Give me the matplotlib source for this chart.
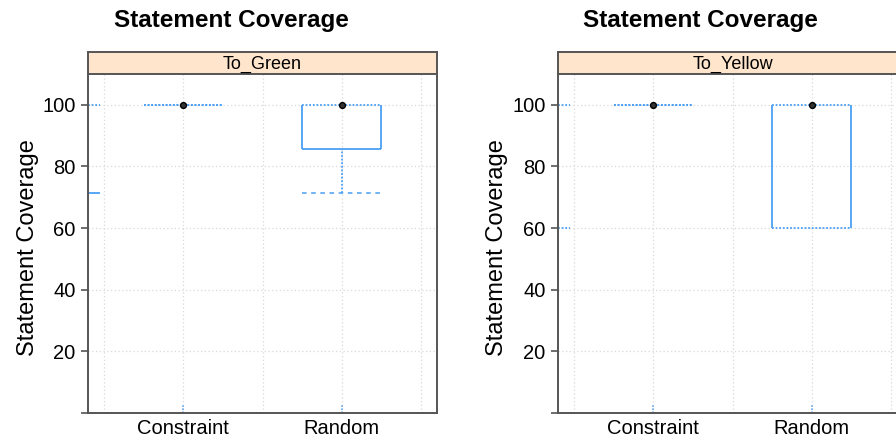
import matplotlib
matplotlib.use("Agg")
import matplotlib.pyplot as plt

plt.rcParams['font.family'] = ['Liberation Sans', 'DejaVu Sans']

categories = ["Constraint", "Random"]
panels = ["To_Green", "To_Yellow"]
title = "Statement Coverage"
ylabel = "Statement Coverage"

# five-number summaries per panel: [Constraint, Random]
whislo = {"To_Green": [100, 71.4], "To_Yellow": [100, 60]}
q1 = {"To_Green": [100, 85.7], "To_Yellow": [100, 60]}
med = {"To_Green": [100, 100], "To_Yellow": [100, 100]}
q3 = {"To_Green": [100, 100], "To_Yellow": [100, 100]}
whishi = {"To_Green": [100, 100], "To_Yellow": [100, 100]}
# partially visible box edges at the left border of each panel
frag_solid = {"To_Green": [71.4], "To_Yellow": []}
frag_dotted = {"To_Green": [100], "To_Yellow": [100, 60]}

yticks = [20, 40, 60, 80, 100]
BLUE = "#4a9ff5"
GRID = "#d9d9d9"
FRAME = "#555555"
STRIP = "#ffe5cc"

W, H = 896, 441
fig = plt.figure(figsize=(W / 100, H / 100), dpi=100)

lefts = [88, 558]
title_x = [231, 700]
ylab_x = [28, 497]
ax_w = 349
ax_top, ax_bot = 74, 413
strip_top = 52

pos = [1, 2]
hw = 0.25

for k, p in enumerate(panels):
    L = lefts[k]
    ax = fig.add_axes([L / W, (H - ax_bot) / H, ax_w / W, (ax_bot - ax_top) / H])
    sax = fig.add_axes([L / W, (H - ax_top) / H, ax_w / W, (ax_top - strip_top) / H])
    ax.set_xlim(0.4, 2.6)
    ax.set_ylim(0, 110)
    # grid
    for gx in [0.5, 1, 1.5, 2, 2.5]:
        ax.axvline(gx, color=GRID, lw=0.9, ls=(0, (1, 2)), zorder=1)
    for gy in yticks:
        ax.axhline(gy, color=GRID, lw=0.9, ls=(0, (1, 2)), zorder=1)

    def sty(v):
        return (0, (1, 1)) if v in yticks or v == 100 else "-"

    for i, x in enumerate(pos):
        a, b, m, c, d = whislo[p][i], q1[p][i], med[p][i], q3[p][i], whishi[p][i]
        # box
        ax.hlines(c, x - hw, x + hw, colors=BLUE, lw=1.3, ls=sty(c), zorder=2)
        ax.hlines(b, x - hw, x + hw, colors=BLUE, lw=1.3, ls=sty(b), zorder=2)
        if c > b:
            ax.vlines([x - hw, x + hw], b, c, colors=BLUE, lw=1.3, zorder=2)
        # whiskers
        if b > a:
            ax.vlines(x, a, b, colors=BLUE, lw=1.3, ls=(0, (1, 1)), zorder=2)
            ax.hlines(a, x - hw, x + hw, colors=BLUE, lw=1.1, ls=(0, (3, 3)), zorder=2)
        if d > c:
            ax.vlines(x, c, d, colors=BLUE, lw=1.3, ls=(0, (1, 1)), zorder=2)
            ax.hlines(d, x - hw, x + hw, colors=BLUE, lw=1.1, ls=(0, (3, 3)), zorder=2)
        # bottom marks
        ax.vlines(x, 0, 3, colors=BLUE, lw=1.1, ls=(0, (1, 1)), zorder=2)
        # median dot
        ax.plot([x], [m], marker="o", ms=4.2, mfc="#333333", mec="black", mew=1.0, zorder=3)

    for v in frag_solid[p]:
        ax.hlines(v, 0.4, 0.475, colors=BLUE, lw=1.3, zorder=2)
    for v in frag_dotted[p]:
        ax.hlines(v, 0.4, 0.475, colors=BLUE, lw=1.3, ls=(0, (1, 1)), zorder=2)

    ax.set_yticks([0] + yticks)
    ax.set_yticklabels([""] + [str(t) for t in yticks], fontsize=14.5)
    ax.set_xticks(pos)
    ax.set_xticklabels(categories, fontsize=14.5)
    ax.tick_params(axis="y", length=5, width=1.2, color=FRAME, pad=4)
    ax.tick_params(axis="x", length=0, pad=4)
    for s in ["left", "bottom", "right"]:
        ax.spines[s].set_color(FRAME)
        ax.spines[s].set_linewidth(1.4)
    ax.spines["top"].set_visible(False)

    sax.set_facecolor(STRIP)
    sax.set_xticks([])
    sax.set_yticks([])
    for s in sax.spines.values():
        s.set_color(FRAME)
        s.set_linewidth(1.4)
    sax.text(0.5, 0.45, p, ha="center", va="center", fontsize=13, transform=sax.transAxes)

    fig.text(title_x[k] / W, 1 - 20 / H, title, ha="center", va="center",
             fontsize=17.5, fontweight="bold")
    fig.text(ylab_x[k] / W, 1 - 248 / H, ylabel, ha="center", va="center",
             rotation=90, fontsize=17)

fig.savefig("out.png", dpi=100)
